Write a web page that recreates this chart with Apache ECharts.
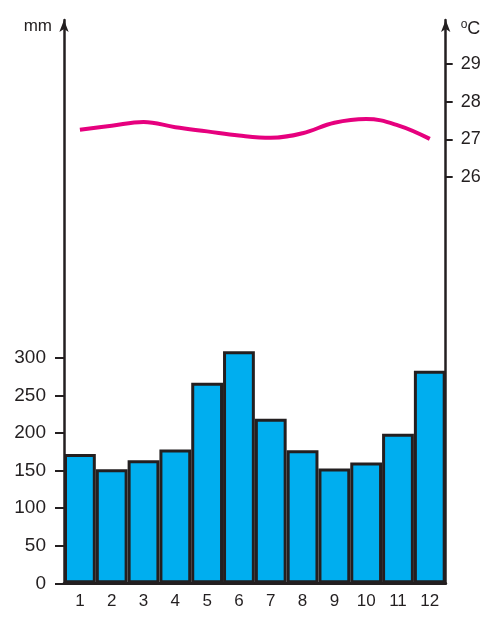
<!DOCTYPE html>
<html>
<head>
<meta charset="utf-8">
<script src="https://cdn.jsdelivr.net/npm/echarts@6/dist/echarts.min.js"></script>
<style>
html,body{margin:0;padding:0;background:#fff;}
#chart{width:489px;height:625px;}
</style>
</head>
<body>
<div id="chart"></div>
<script>
const months = ['1','2','3','4','5','6','7','8','9','10','11','12'];
const rainfall = [172, 152, 164, 178, 267, 309, 219, 177, 153, 161, 199, 283];
const temperature = [27.25, 27.36, 27.46, 27.32, 27.21, 27.10, 27.04, 27.16, 27.44, 27.54, 27.37, 27.01];
const rainTicks = [0, 50, 100, 150, 200, 250, 300];
const tempTicks = [26, 27, 28, 29];

const FONT = '"Liberation Sans", Arial, sans-serif';
const INK = '#231f20';

const chart = echarts.init(document.getElementById('chart'));
chart.setOption({
  animation: false,
  backgroundColor: '#ffffff',
  grid: { left: 64, right: 43.3, top: 20, bottom: 41.7, containLabel: false },
  xAxis: {
    type: 'category',
    data: months,
    boundaryGap: true,
    axisLine: { show: true, lineStyle: { color: INK, width: 3 } },
    axisTick: { show: false },
    axisLabel: { color: INK, fontFamily: FONT, fontSize: 17, margin: 10 },
    splitLine: { show: false }
  },
  yAxis: [
    {
      type: 'value',
      position: 'left',
      min: 0,
      max: 750,
      name: 'mm',
      nameLocation: 'end',
      nameGap: -6,
      nameTextStyle: { color: INK, fontFamily: FONT, fontSize: 17, align: 'right', verticalAlign: 'middle', padding: [0, 12, 0, 0] },
      axisLine: { show: true, onZero: false, symbol: ['none', 'arrow'], symbolSize: [7, 12], lineStyle: { color: INK, width: 2.5 } },
      axisTick: { show: true, length: 9, customValues: rainTicks, lineStyle: { color: INK, width: 2 } },
      axisLabel: { customValues: rainTicks, color: INK, fontFamily: FONT, fontSize: 19, margin: 18 },
      splitLine: { show: false }
    },
    {
      type: 'value',
      position: 'right',
      min: 15.222,
      max: 30.164,
      name: '{s|o}{c|C}',
      nameLocation: 'end',
      nameGap: -9,
      nameTextStyle: {
        color: INK, fontFamily: FONT, align: 'left', verticalAlign: 'middle', padding: [0, 0, 0, 15],
        rich: {
          s: { fontFamily: FONT, fontSize: 12, color: INK, padding: [0, 0, 9, 0] },
          c: { fontFamily: FONT, fontSize: 18, color: INK }
        }
      },
      axisLine: { show: true, onZero: false, symbol: ['none', 'arrow'], symbolSize: [7, 12], lineStyle: { color: INK, width: 2.5 } },
      axisTick: { show: true, length: 7, customValues: tempTicks, lineStyle: { color: INK, width: 2 } },
      axisLabel: { customValues: tempTicks, color: INK, fontFamily: FONT, fontSize: 18, margin: 15 },
      splitLine: { show: false }
    }
  ],
  series: [
    {
      name: 'Rainfall',
      type: 'bar',
      yAxisIndex: 0,
      data: rainfall,
      barWidth: '100%',
      barCategoryGap: '0%',
      itemStyle: { color: '#00aeef', borderColor: INK, borderWidth: 3 },
      z: 2
    },
    {
      name: 'Temperature',
      type: 'line',
      yAxisIndex: 1,
      data: temperature,
      smooth: 0.4,
      symbol: 'none',
      lineStyle: { color: '#e6007e', width: 4 },
      z: 3
    }
  ]
});
</script>
</body>
</html>
